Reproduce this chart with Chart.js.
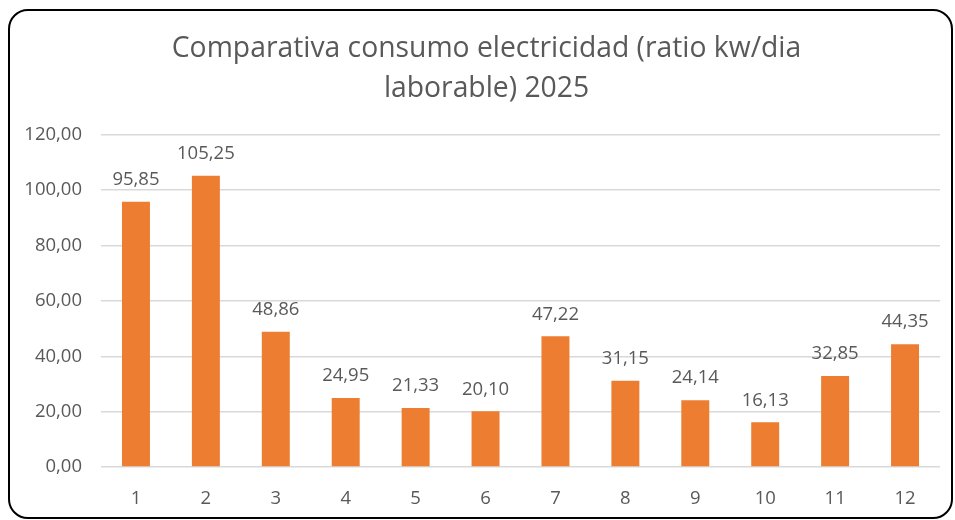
<!DOCTYPE html>
<html>
<head>
<meta charset="utf-8">
<script src="https://cdn.jsdelivr.net/npm/chart.js@4"></script>
<style>
  html, body { margin: 0; padding: 0; background: #fff; }
  #wrap { position: relative; width: 955px; height: 520px; }
  #frame {
    position: absolute; left: 8px; top: 9px; width: 941px; height: 506px;
    border: 2px solid #000; border-radius: 20px; box-sizing: content-box;
  }
  canvas { position: absolute; left: 0; top: 0; }
</style>
</head>
<body>
<div id="wrap">
  <div id="frame"></div>
  <canvas id="chart" width="955" height="520"></canvas>
</div>
<script>
// Consumo electricidad por mes, ratio kw / dia laborable
const months = ["1", "2", "3", "4", "5", "6", "7", "8", "9", "10", "11", "12"];
const ratios = [95.85, 105.25, 48.86, 24.95, 21.33, 20.10, 47.22, 31.15, 24.14, 16.13, 32.85, 44.35];
const titleLines = ["Comparativa consumo electricidad (ratio kw/dia", "laborable) 2025"];

const textColor = "#595959";
const fontFamily = "'Open Sans', 'Noto Sans', sans-serif";
const fmt = v => Number(v).toFixed(2).replace(".", ",");

// draws the value above each bar
const barLabels = {
  id: "barLabels",
  afterLayout(c) {
    // nudge the title centre a bit to the right, like the original
    if (c.titleBlock) c.titleBlock.left += 33;
  },
  afterDatasetsDraw(c) {
    const ctx = c.ctx;
    const meta = c.getDatasetMeta(0);
    ctx.save();
    ctx.font = "18.5px " + fontFamily;
    ctx.fillStyle = textColor;
    ctx.textAlign = "center";
    ctx.textBaseline = "middle";
    meta.data.forEach((bar, i) => {
      ctx.fillText(fmt(ratios[i]), bar.x, bar.y - 22);
    });
    ctx.restore();
  }
};

new Chart(document.getElementById("chart"), {
  type: "bar",
  data: {
    labels: months,
    datasets: [{
      data: ratios,
      backgroundColor: "#ED7D31",
      barPercentage: 0.4,
      categoryPercentage: 1
    }]
  },
  options: {
    responsive: false,
    animation: false,
    layout: { padding: { left: 0, right: 15, top: 0, bottom: 0 } },
    plugins: {
      legend: { display: false },
      tooltip: { enabled: false },
      title: {
        display: true,
        text: titleLines,
        color: textColor,
        font: { family: fontFamily, size: 28.3, weight: "normal", lineHeight: 1.41 },
        padding: { top: 29, bottom: 26 }
      }
    },
    scales: {
      x: {
        grid: { display: false },
        border: { display: false },
        ticks: { color: textColor, font: { family: fontFamily, size: 18.5 }, padding: 13 },
        afterFit: s => { s.height = 53; }
      },
      y: {
        min: 0,
        max: 120,
        ticks: {
          stepSize: 20,
          color: textColor,
          font: { family: fontFamily, size: 18.5 },
          padding: 19,
          callback: v => fmt(v)
        },
        grid: { color: "#D9D9D9", lineWidth: 1.5, drawTicks: false },
        border: { display: false },
        afterFit: s => { s.width = 101; }
      }
    }
  },
  plugins: [barLabels]
});
</script>
</body>
</html>
